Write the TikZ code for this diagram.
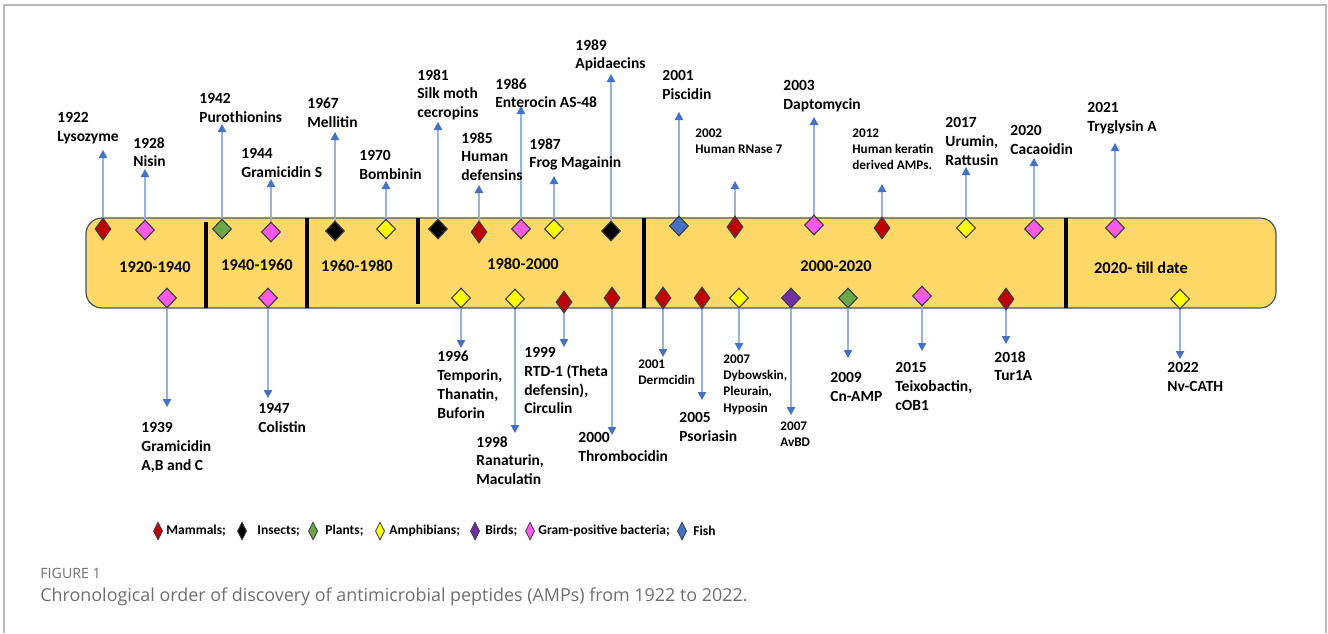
\documentclass[tikz,border=0pt]{standalone}
\usepackage{fontspec}
\setmainfont{Carlito}
\newfontfamily\capfont{Open Sans}
\usetikzlibrary{arrows.meta}
\usetikzlibrary{shapes.geometric}
\usetikzlibrary{positioning}
\definecolor{mammalred}{RGB}{192,0,0}
\definecolor{grampink}{RGB}{250,90,230}
\definecolor{plantgreen}{RGB}{106,168,74}
\definecolor{amphyellow}{RGB}{255,255,0}
\definecolor{birdpurple}{RGB}{112,48,160}
\definecolor{fishblue}{RGB}{68,114,196}
\definecolor{bandfill}{RGB}{255,216,104}
\definecolor{bandedge}{RGB}{68,84,106}
\definecolor{diaedge}{RGB}{60,60,70}
\definecolor{arrowline}{RGB}{150,178,225}
\definecolor{arrowtip}{RGB}{68,114,196}
\definecolor{framegray}{RGB}{185,185,185}
\definecolor{capgray}{RGB}{110,110,110}
\pgfdeclarelayer{back}
\pgfdeclarelayer{mid}
\pgfsetlayers{back,mid,main}

\begin{document}
\begin{tikzpicture}[x=0.5pt,y=-0.5pt,
  dia/.style={diamond,draw=diaedge,line width=0.55pt,inner sep=0pt,minimum width=9.5pt,minimum height=10pt},
  rdia/.style={dia,minimum width=8pt,minimum height=11pt},
  ldia/.style={diamond,draw=diaedge,line width=0.4pt,inner sep=0pt,minimum width=4.6pt,minimum height=9pt},
  lab/.style={anchor=north west,inner sep=0pt,align=left,font=\fontsize{7.75}{9.4}\selectfont\bfseries},
  slab/.style={lab,font=\fontsize{6.6}{8.2}\selectfont\bfseries},
  per/.style={inner sep=0pt,font=\fontsize{8.2}{9}\selectfont\bfseries},
  legt/.style={anchor=west,inner sep=0pt,font=\fontsize{6.75}{8}\selectfont\bfseries},
  arr/.style={draw=arrowline,line width=0.6pt,-{Triangle[length=4pt,width=4.2pt,color=arrowtip]}}]
\useasboundingbox (0,0) rectangle (1328,633);
\draw [framegray,line width=0.8pt] (4,633) -- (4,5) -- (1326,5) -- (1326,633);

% the band of periods
\begin{pgfonlayer}{back}
\draw [fill=bandfill,draw=bandedge,line width=0.6pt,rounded corners=8pt] (86,218) rectangle (1276,308);
\draw [line width=2pt] (206,222) -- (206,308);
\draw [line width=2pt] (307,218) -- (307,308);
\draw [line width=2pt] (418,218) -- (418,304);
\draw [line width=2pt] (644,218) -- (644,308);
\draw [line width=2pt] (1066,218) -- (1066,308);
\end{pgfonlayer}
\node [per] (p1) at (155,267) {1920-1940};
\node [per] (p2) at (257,265) {1940-1960};
\node [per] (p3) at (357,266) {1960-1980};
\node [per] (p4) at (523,264) {1980-2000};
\node [per] (p5) at (836,266) {2000-2020};
\node [per] (p6) at (1141,268) {2020- till date};

% above the band
\node [rdia,fill=mammalred] (lyso) at (103,229) {};
\node [dia,fill=grampink] (nisin) at (145,230) {};
\node [dia,fill=plantgreen] (puro) at (222,229) {};
\node [dia,fill=grampink] (gramS) at (271,232) {};
\node [dia,fill=black] (melli) at (335,231) {};
\node [dia,fill=amphyellow] (bombi) at (386,229) {};
\node [dia,fill=black] (cecro) at (438,229) {};
\node [rdia,fill=mammalred] (hdef) at (479,232) {};
\node [dia,fill=grampink] (enter) at (521,229) {};
\node [dia,fill=amphyellow] (magai) at (554,229) {};
\node [dia,fill=black] (apid) at (611,231) {};
\node [dia,fill=fishblue] (pisc) at (679,226) {};
\node [rdia,fill=mammalred] (rnase) at (735,227) {};
\node [dia,fill=grampink] (dapto) at (814,225) {};
\node [rdia,fill=mammalred] (kera) at (882,228) {};
\node [dia,fill=amphyellow] (urum) at (966,228) {};
\node [dia,fill=grampink] (cacao) at (1034,229) {};
\node [dia,fill=grampink] (trygl) at (1115,228) {};

\node [lab] (lysoT) at (57,112) {1922\\Lysozyme};
\node [lab] (nisinT) at (133,137) {1928\\Nisin};
\node [lab] (puroT) at (199,93) {1942\\Purothionins};
\node [lab] (gramST) at (241,148) {1944\\Gramicidin S};
\node [lab] (melliT) at (307,98) {1967\\Mellitin};
\node [lab] (bombiT) at (359,150) {1970\\Bombinin};
\node [lab] (cecroT) at (417,69) {1981\\Silk moth\\cecropins};
\node [lab] (hdefT) at (461,132) {1985\\Human\\defensins};
\node [lab] (enterT) at (495,78) {1986\\Enterocin AS-48};
\node [lab] (magaiT) at (529,138) {1987\\Frog Magainin};
\node [lab] (apidT) at (575,39) {1989\\Apidaecins};
\node [lab] (piscT) at (662,70) {2001\\Piscidin};
\node [slab] (rnaseT) at (695,128) {2002\\Human RNase 7};
\node [lab] (daptoT) at (783,80) {2003\\Daptomycin};
\node [slab] (keraT) at (852,128) {2012\\Human keratin\\derived AMPs.};
\node [lab] (urumT) at (945,117) {2017\\Urumin,\\Rattusin};
\node [lab] (cacaoT) at (1010,125) {2020\\Cacaoidin};
\node [lab] (tryglT) at (1087,102) {2021\\Tryglysin A};

\coordinate (lysoA) at (103,150);
\coordinate (nisinA) at (145,169);
\coordinate (puroA) at (222,124);
\coordinate (gramSA) at (271,179);
\coordinate (melliA) at (335,132);
\coordinate (bombiA) at (386,181);
\coordinate (cecroA) at (438,122);
\coordinate (hdefA) at (479,185);
\coordinate (enterA) at (521,106);
\coordinate (magaiA) at (554,176);
\coordinate (apidA) at (611,74);
\coordinate (piscA) at (679,112);
\coordinate (rnaseA) at (735,181);
\coordinate (daptoA) at (814,117);
\coordinate (keraA) at (882,184);
\coordinate (urumA) at (966,167);
\coordinate (cacaoA) at (1034,158);
\coordinate (tryglA) at (1115,143);

% below the band
\node [dia,fill=grampink] (gramA) at (167,298) {};
\node [dia,fill=grampink] (colis) at (268,298) {};
\node [dia,fill=amphyellow] (tempo) at (461,298) {};
\node [dia,fill=amphyellow] (ranat) at (515,299) {};
\node [rdia,fill=mammalred] (rtd) at (564,302) {};
\node [rdia,fill=mammalred] (throm) at (612,298) {};
\node [rdia,fill=mammalred] (dermc) at (663,298) {};
\node [rdia,fill=mammalred] (psori) at (702,298) {};
\node [dia,fill=amphyellow] (dybow) at (739,298) {};
\node [dia,fill=birdpurple] (avbd) at (791,298) {};
\node [dia,fill=plantgreen] (cnamp) at (848,298) {};
\node [dia,fill=grampink] (teixo) at (922,296) {};
\node [rdia,fill=mammalred] (tur) at (1006,299) {};
\node [dia,fill=amphyellow] (nvcat) at (1180,299) {};

\node [lab] (gramAT) at (141,422) {1939\\Gramicidin\\A,B and C};
\node [lab] (colisT) at (258,403) {1947\\Colistin};
\node [lab] (tempoT) at (437,351) {1996\\Temporin,\\Thanatin,\\Buforin};
\node [lab] (ranatT) at (476,436) {1998\\Ranaturin,\\Maculatin};
\node [lab] (rtdT) at (524,347) {1999\\RTD-1 (Theta\\defensin),\\Circulin};
\node [lab] (thromT) at (578,432) {2000\\Thrombocidin};
\node [slab] (dermcT) at (638,359) {2001\\Dermcidin};
\node [lab] (psoriT) at (679,412) {2005\\Psoriasin};
\node [slab] (dybowT) at (723,354) {2007\\Dybowskin,\\Pleurain,\\Hyposin};
\node [slab] (avbdT) at (780,421) {2007\\AvBD};
\node [lab] (cnampT) at (830,372) {2009\\Cn-AMP};
\node [lab] (teixoT) at (895,362) {2015\\Teixobactin,\\cOB1};
\node [lab] (turT) at (994,351) {2018\\Tur1A};
\node [lab] (nvcatT) at (1167,362) {2022\\Nv-CATH};

\coordinate (gramAA) at (167,407);
\coordinate (colisA) at (268,398);
\coordinate (tempoA) at (461,348);
\coordinate (ranatA) at (515,433);
\coordinate (rtdA) at (564,347);
\coordinate (thromA) at (612,435);
\coordinate (dermcA) at (663,357);
\coordinate (psoriA) at (702,400);
\coordinate (dybowA) at (739,351);
\coordinate (avbdA) at (791,415);
\coordinate (cnampA) at (848,358);
\coordinate (teixoA) at (922,351);
\coordinate (turA) at (1006,344);
\coordinate (nvcatA) at (1180,359);

\begin{pgfonlayer}{mid}
\draw [arr] (lyso.center) -- (lysoA);
\draw [arr] (nisin.center) -- (nisinA);
\draw [arr] (puro.center) -- (puroA);
\draw [arr] (gramS.center) -- (gramSA);
\draw [arr] (melli.center) -- (melliA);
\draw [arr] (bombi.center) -- (bombiA);
\draw [arr] (cecro.center) -- (cecroA);
\draw [arr] (hdef.center) -- (hdefA);
\draw [arr] (enter.center) -- (enterA);
\draw [arr] (magai.center) -- (magaiA);
\draw [arr] (apid.center) -- (apidA);
\draw [arr] (pisc.center) -- (piscA);
\draw [arr] (rnase.center) -- (rnaseA);
\draw [arr] (dapto.center) -- (daptoA);
\draw [arr] (kera.center) -- (keraA);
\draw [arr] (urum.center) -- (urumA);
\draw [arr] (cacao.center) -- (cacaoA);
\draw [arr] (trygl.center) -- (tryglA);
\draw [arr] (gramA.center) -- (gramAA);
\draw [arr] (colis.center) -- (colisA);
\draw [arr] (tempo.center) -- (tempoA);
\draw [arr] (ranat.center) -- (ranatA);
\draw [arr] (rtd.center) -- (rtdA);
\draw [arr] (throm.center) -- (thromA);
\draw [arr] (dermc.center) -- (dermcA);
\draw [arr] (psori.center) -- (psoriA);
\draw [arr] (dybow.center) -- (dybowA);
\draw [arr] (avbd.center) -- (avbdA);
\draw [arr] (cnamp.center) -- (cnampA);
\draw [arr] (teixo.center) -- (teixoA);
\draw [arr] (tur.center) -- (turA);
\draw [arr] (nvcat.center) -- (nvcatA);
\end{pgfonlayer}

% legend
\node [ldia,fill=mammalred] (lg1) at (158,531) {};
\node [legt] (lt1) at (166,531) {Mammals;};
\node [ldia,fill=black] (lg2) at (242,531) {};
\node [legt] (lt2) at (257,531) {Insects;};
\node [ldia,fill=plantgreen] (lg3) at (313,531) {};
\node [legt] (lt3) at (325,531) {Plants;};
\node [ldia,fill=amphyellow] (lg4) at (380,531) {};
\node [legt] (lt4) at (389,531) {Amphibians;};
\node [ldia,fill=birdpurple] (lg5) at (475,531) {};
\node [legt] (lt5) at (485,531) {Birds;};
\node [ldia,fill=grampink] (lg6) at (530,531) {};
\node [legt] (lt6) at (538,531) {Gram-positive bacteria;};
\node [ldia,fill=fishblue] (lg7) at (682,531) {};
\node [legt] (lt7) at (693,531) {Fish};

% caption
\node [anchor=west,inner sep=0pt,text=capgray,font=\capfont\fontsize{7.1}{8}\selectfont] (figno) at (40,573) {FIGURE 1};
\node [anchor=west,inner sep=0pt,text=capgray,font=\capfont\fontsize{8.95}{11}\selectfont] (capt) at (40,597) {Chronological order of discovery of antimicrobial peptides (AMPs) from 1922 to 2022.};
\end{tikzpicture}
\end{document}
